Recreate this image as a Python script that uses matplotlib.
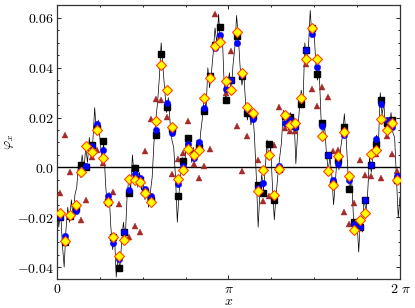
import numpy as np
import matplotlib
matplotlib.use("Agg")
import matplotlib.pyplot as plt
from matplotlib.ticker import MultipleLocator

plt.rcParams['mathtext.fontset'] = 'cm'
plt.rcParams['font.family'] = 'serif'

# sampled values (64 points evenly spread over [0, 2pi])
squares = [-0.0199, -0.0299, -0.0196, -0.0165, 0.0008, 0.0003, 0.0090, 0.0157,
           0.0105, -0.0140, -0.0279, -0.0403, -0.0261, -0.0101, -0.0001, -0.0052,
           -0.0099, -0.0129, 0.0132, 0.0455, 0.0241, 0.0155, -0.0115, 0.0025,
           0.0120, 0.0055, 0.0080, 0.0225, 0.0368, 0.0491, 0.0565, 0.0271,
           0.0351, 0.0528, 0.0368, 0.0217, 0.0208, -0.0072, -0.0103, 0.0092,
           -0.0132, -0.0005, 0.0208, 0.0204, 0.0168, 0.0255, 0.0472, 0.0559,
           0.0375, 0.0179, 0.0048, -0.0065, 0.0028, 0.0161, -0.0088, -0.0219,
           -0.0239, -0.0130, 0.0008, 0.0092, 0.0272, 0.0177, 0.0192, -0.0050]

circles = [-0.0200, -0.0276, -0.0190, -0.0175, -0.0012, 0.0004, 0.0085, 0.0175,
           0.0068, -0.0116, -0.0303, -0.0369, -0.0259, -0.0089, -0.0028, -0.0041,
           -0.0088, -0.0116, 0.0151, 0.0409, 0.0257, 0.0137, -0.0068, 0.0005,
           0.0095, 0.0039, 0.0101, 0.0239, 0.0359, 0.0481, 0.0532, 0.0315,
           0.0351, 0.0501, 0.0372, 0.0235, 0.0195, -0.0083, -0.0063, 0.0044,
           -0.0109, 0.0007, 0.0179, 0.0191, 0.0161, 0.0275, 0.0472, 0.0537,
           0.0404, 0.0168, 0.0048, -0.0049, 0.0015, 0.0131, -0.0049, -0.0228,
           -0.0239, -0.0132, 0.0008, 0.0115, 0.0255, 0.0192, 0.0164, -0.0036]

diamonds = [-0.0185, -0.0295, -0.0192, -0.0152, -0.0019, 0.0084, 0.0061, 0.0151,
            0.0036, -0.0140, -0.0281, -0.0355, -0.0292, -0.0045, -0.0049, -0.0060,
            -0.0103, -0.0139, 0.0185, 0.0412, 0.0311, 0.0161, -0.0045, -0.0009,
            0.0075, 0.0048, 0.0068, 0.0279, 0.0359, 0.0488, 0.0505, 0.0345,
            0.0311, 0.0544, 0.0377, 0.0244, 0.0217, -0.0095, -0.0012, 0.0048,
            -0.0112, -0.0005, 0.0211, 0.0172, 0.0177, 0.0279, 0.0435, 0.0559,
            0.0435, 0.0128, -0.0016, -0.0069, 0.0044, 0.0144, -0.0035, -0.0252,
            -0.0212, -0.0183, 0.0052, 0.0068, 0.0195, 0.0151, 0.0177, -0.0052]

triangles = [-0.0103, 0.0131, -0.0019, -0.0160, -0.0212, -0.0132, 0.0041, 0.0071,
             0.0017, -0.0120, -0.0099, -0.0148, -0.0283, -0.0279, -0.0236, -0.0259,
             0.0065, 0.0195, 0.0275, 0.0271, 0.0201, -0.0025, 0.0035, 0.0057,
             0.0185, 0.0012, -0.0041, 0.0004, 0.0075, 0.0617, 0.0520, 0.0300,
             0.0468, 0.0168, -0.0016, 0.0125, 0.0205, 0.0028, -0.0135, -0.0115,
             0.0091, 0.0241, 0.0160, 0.0145, 0.0145, 0.0260, 0.0415, 0.0315,
             0.0248, 0.0324, 0.0281, 0.0065, 0.0071, -0.0179, -0.0228, -0.0143,
             0.0028, -0.0032, -0.0036, 0.0055, -0.0041, 0.0128, 0.0055, -0.0015]

# the noisy underlying curve
curve = [-0.014, -0.024, -0.017, -0.031, -0.040, -0.025, -0.016, -0.022, -0.013,
         -0.020, -0.011, -0.008, 0.002, -0.004, 0.005, -0.001, 0.008, 0.002,
         0.012, 0.004, 0.011, 0.024, 0.013, 0.019, 0.011, 0.003, 0.010,
         -0.006, -0.016, -0.010, -0.024, -0.033, -0.027, -0.044, -0.035, -0.041,
         -0.030, -0.022, -0.029, -0.012, -0.004, -0.009, 0.005, -0.004, 0.001,
         -0.008, -0.002, -0.009, -0.006, -0.013, -0.008, -0.016, -0.010, -0.004,
         0.010, 0.019, 0.026, 0.036, 0.050, 0.040, 0.031, 0.022, 0.028,
         0.018, 0.011, 0.008, -0.004, -0.022, -0.010, -0.002, 0.004, -0.003,
         0.013, 0.006, 0.012, 0.002, 0.008, 0.003, 0.011, 0.005, 0.014,
         0.020, 0.029, 0.023, 0.040, 0.032, 0.038, 0.046, 0.056, 0.050,
         0.0615, 0.049, 0.054, 0.035, 0.027, 0.033, 0.038, 0.030, 0.041,
         0.048, 0.061, 0.052, 0.040, 0.033, 0.038, 0.026, 0.019, 0.024,
         0.017, 0.023, 0.012, -0.004, -0.024, -0.010, -0.003, -0.009, 0.000,
         0.011, 0.003, 0.008, -0.008, -0.021, -0.011, -0.003, 0.004, 0.010,
         0.023, 0.016, 0.022, 0.015, 0.022, 0.016, 0.020, 0.0015, 0.014,
         0.024, 0.031, 0.026, 0.050, 0.041, 0.048, 0.063, 0.052, 0.057,
         0.043, 0.035, 0.039, 0.020, 0.012, 0.017, 0.006, -0.001, 0.004,
         -0.003, -0.015, -0.006, 0.005, -0.001, 0.008, 0.013, 0.0215, 0.012,
         -0.002, -0.009, -0.004, -0.019, -0.027, -0.021, -0.034, -0.020, -0.026,
         -0.012, -0.018, -0.010, 0.004, -0.002, 0.006, 0.007, 0.013, 0.010,
         0.030, 0.021, 0.026, 0.014, 0.020, 0.015, 0.022, 0.014, 0.012,
         -0.004, -0.020, -0.012]

n = len(squares)
x_pts = (np.arange(n) + 0.5) * 2 * np.pi / n
x_curve = np.linspace(0, 2 * np.pi, len(curve))

fig = plt.figure(figsize=(4.15, 3.08), dpi=100)
ax = fig.add_axes([0.1373, 0.0942, 0.8266, 0.8896])

ax.axhline(0, color='black', lw=1.0, zorder=1)
ax.plot(x_curve, curve, color='black', lw=0.5, zorder=2)
ax.plot(x_pts, triangles, '^', color='#a52a2a', ms=4.6, mec='#a52a2a', mew=0.3, zorder=3)
ax.plot(x_pts, squares, 's', color='black', ms=4.6, zorder=4)
ax.plot(x_pts, circles, 'o', color='blue', ms=4.6, mec='blue', mew=0.3, zorder=5)
ax.plot(x_pts, diamonds, 'D', color='yellow', ms=4.6, mec='#ff4500', mew=0.8, zorder=6)

ax.set_xlim(0, 2 * np.pi)
ax.set_ylim(-0.0448, 0.0652)

ax.set_xticks([0, np.pi, 2 * np.pi])
ax.set_xticklabels([r'$0$', r'$\pi$', r'$2\ \pi$'], fontsize=10)
ax.xaxis.set_minor_locator(MultipleLocator(np.pi / 4))
yt = [-0.04, -0.02, 0.0, 0.02, 0.04, 0.06]
ax.set_yticks(yt)
ax.set_yticklabels([r'$-0.04$', r'$-0.02$', r'$0.0$', r'$0.02$', r'$0.04$', r'$0.06$'], fontsize=10)
ax.yaxis.set_minor_locator(MultipleLocator(0.005))

ax.tick_params(which='both', direction='in', top=True, right=True, width=0.6)
ax.tick_params(which='major', length=2.6, pad=2)
ax.tick_params(which='minor', length=1.5)
for sp in ax.spines.values():
    sp.set_color('0.2')
    sp.set_linewidth(0.9)

ax.set_xlabel(r'$x$', fontsize=10)
ax.xaxis.set_label_coords(0.5, -0.056)
ax.set_ylabel(r'$\varphi_x$', fontsize=10)
ax.yaxis.set_label_coords(-0.12, 0.5)

fig.savefig('out.png', dpi=100)
